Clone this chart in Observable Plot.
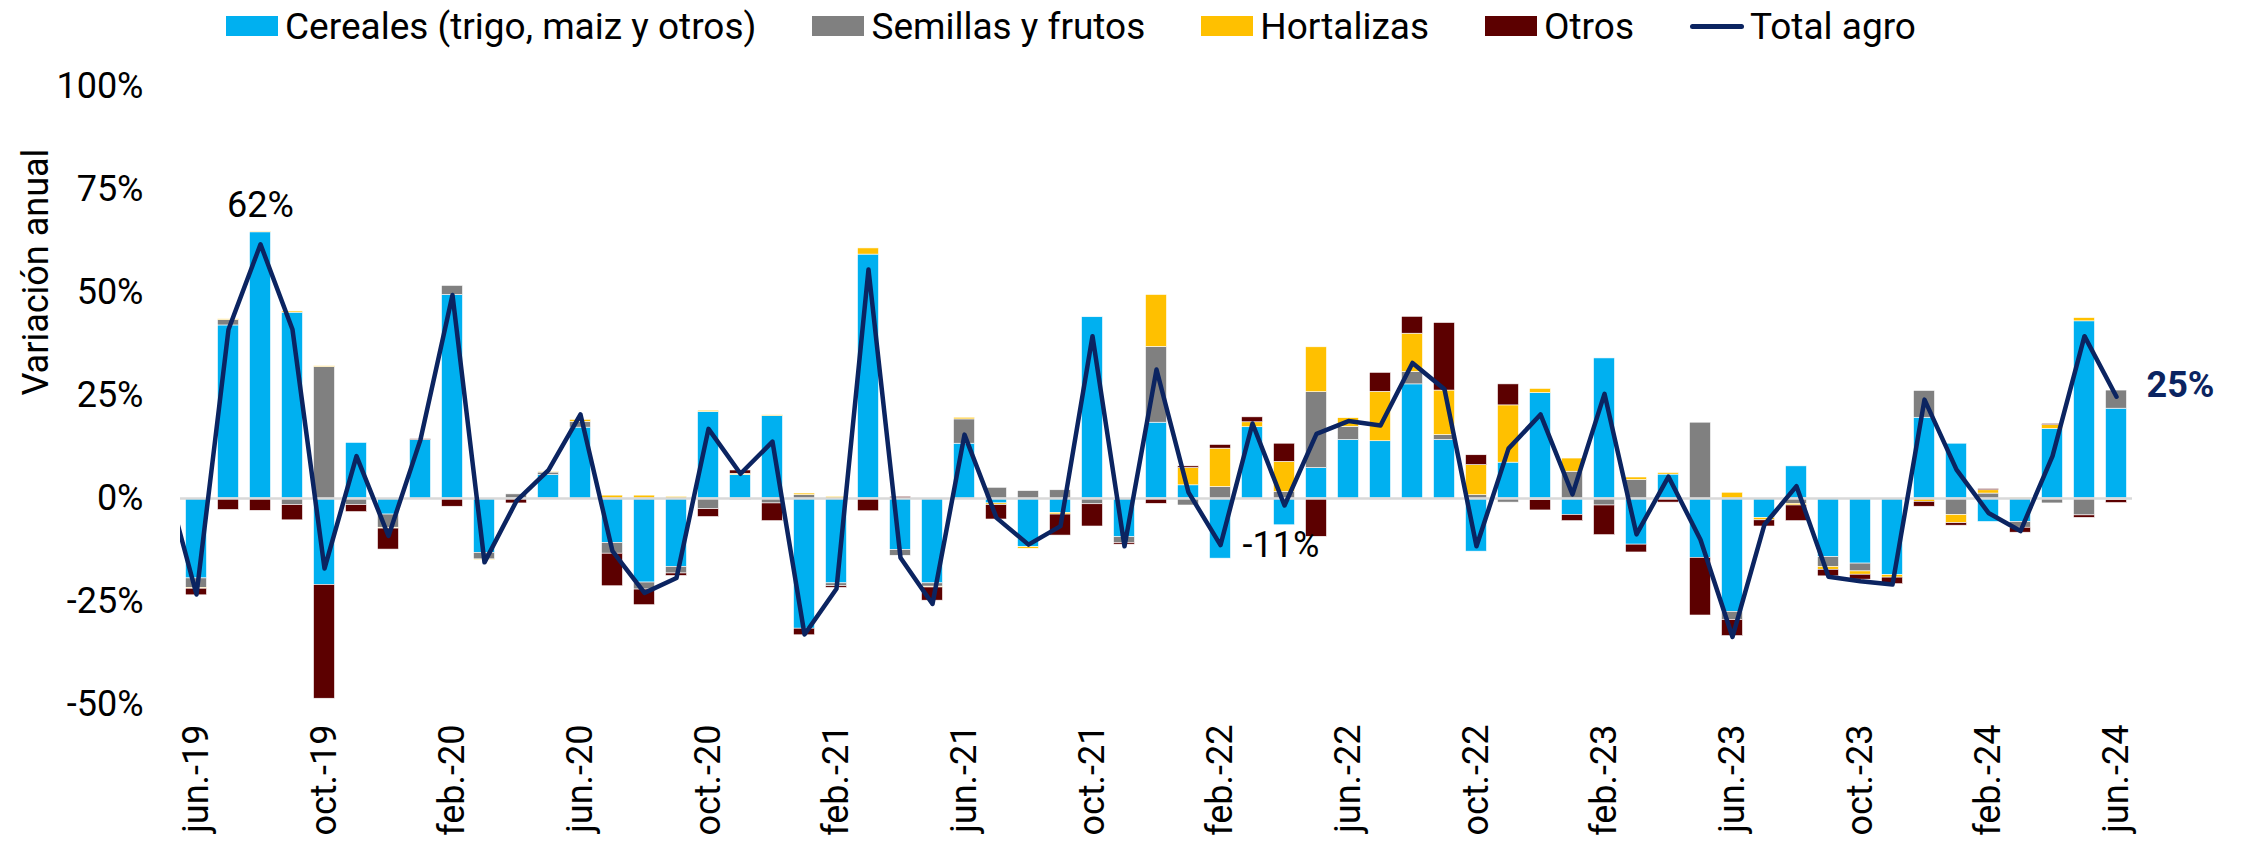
<!DOCTYPE html>
<html>
<head>
<meta charset="utf-8">
<script src="https://cdn.jsdelivr.net/npm/d3@7"></script>
<script src="https://cdn.jsdelivr.net/npm/@observablehq/plot@0.6"></script>
<style>
  html, body { margin: 0; padding: 0; background: #fff; }
  body { width: 2243px; height: 846px; overflow: hidden; font-family: Roboto, "Noto Sans", sans-serif; }
  #legend { height: 52px; display: flex; align-items: center; padding-left: 226px; font-size: 37px; color: #000; }
  .item { display: flex; align-items: center; margin-right: 56px; }
  .sw { width: 52px; height: 20px; margin-right: 7px; }
  .ln { width: 54px; height: 5px; border-radius: 3px; margin-right: 6px; }
</style>
</head>
<body>
<div id="legend"></div>
<div id="chart"></div>
<script>
const months = [
  "jun.-19","jul.-19","ago.-19","sep.-19","oct.-19","nov.-19","dic.-19",
  "ene.-20","feb.-20","mar.-20","abr.-20","may.-20","jun.-20","jul.-20","ago.-20","sep.-20","oct.-20","nov.-20","dic.-20",
  "ene.-21","feb.-21","mar.-21","abr.-21","may.-21","jun.-21","jul.-21","ago.-21","sep.-21","oct.-21","nov.-21","dic.-21",
  "ene.-22","feb.-22","mar.-22","abr.-22","may.-22","jun.-22","jul.-22","ago.-22","sep.-22","oct.-22","nov.-22","dic.-22",
  "ene.-23","feb.-23","mar.-23","abr.-23","may.-23","jun.-23","jul.-23","ago.-23","sep.-23","oct.-23","nov.-23","dic.-23",
  "ene.-24","feb.-24","mar.-24","abr.-24","may.-24","jun.-24"
];
const cereales = [
  -19.4, 42.0, 64.6, 45.1, -21.0, 13.5, -3.9, 14.2, 49.4, -13.2, 0, 5.7, 17.2, -10.8, -20.4, -16.6, 21.0, 5.7, 20.0,
  -31.6, -20.6, 59.2, -12.5, -20.6, 13.3, -1.2, -11.8, -3.5, 44.0, -9.4, 18.4,
  3.2, -14.6, 17.3, -6.5, 7.4, 14.2, 13.9, 27.7, 14.2, -12.9, 8.7, 25.6,
  -4.0, 34.0, -11.2, 5.8, -14.4, -27.5, -4.7, 7.8, -14.2, -15.8, -18.6, 19.6,
  13.3, -5.7, -5.7, 16.9, 43.0, 21.8
];
const semillas = [
  -2.3, 1.3, 0, -1.6, 31.9, -1.6, -3.2, 0, 2.2, -1.6, 1.0, 0.6, 1.4, -2.6, -1.7, -1.6, -2.6, -0.4, -1.2,
  0.8, -0.7, 0, -1.4, -0.8, 5.9, 2.6, 1.8, 2.0, -1.4, -1.4, 18.4,
  -1.7, 2.8, 0, 1.6, 18.4, 3.2, -0.3, 3.0, 1.2, 0.8, -1.0, -0.4,
  6.5, -1.7, 4.5, 0, 18.4, -2.0, 0, -1.3, -2.4, -1.9, 0, 6.5,
  -4.0, 1.2, -1.4, -1.2, -4.1, 4.4
];
const hortalizas = [
  -0.2, 0.2, 0.2, 0.3, 0.2, 0, -0.2, 0, 0, -0.2, 0, 0.2, 0.5, 0.7, 0.7, 0.4, 0.3, 0.3, 0.2,
  0.4, 0.4, 1.5, 0, -0.2, 0.4, -0.4, -0.4, -0.4, 0, 0, 12.6,
  4.2, 9.3, 1.2, 7.3, 10.9, 2.1, 12.0, 9.3, 10.8, 7.3, 13.9, 1.0,
  3.2, 0, 0.6, 0.4, 0, 1.4, -0.6, -0.4, -0.7, -0.8, -0.6, -0.8,
  -2.0, 0.8, 0.2, 0.9, 0.8, -0.4
];
const otros = [
  -1.6, -2.8, -3.0, -3.7, -27.6, -1.7, -5.1, 0.2, -2.0, 0, -1.2, -0.2, 0, -7.9, -3.8, -0.6, -1.9, 0.8, -4.3,
  -1.6, -0.4, -3.1, 0.4, -3.2, 0, -3.5, 0, -5.1, -5.4, -0.4, -1.3,
  0.4, 0.9, 1.2, 4.4, -9.3, 0, 4.6, 4.1, 16.4, 2.4, 5.1, -2.5,
  -1.5, -7.2, -1.9, -1.0, -14.0, -3.9, -1.5, -3.8, -1.6, -1.2, -1.6, -1.2,
  -0.6, 0.3, -1.2, 0.3, -0.6, -0.7
];
const total = [
  -23.3, 41.0, 61.7, 41.0, -17.0, 10.3, -9.1, 14.3, 49.4, -15.5, -0.6, 6.9, 20.4, -12.8, -22.9, -19.3, 16.9, 6.0, 13.8,
  -33.0, -21.9, 55.6, -14.4, -25.6, 15.5, -4.7, -11.2, -6.7, 39.4, -11.6, 31.3,
  1.5, -11.3, 18.2, -1.7, 15.7, 18.8, 17.7, 32.9, 26.5, -11.6, 12.1, 20.4,
  1.0, 25.4, -8.7, 5.3, -10.0, -33.6, -6.3, 3.0, -19.0, -20.1, -20.9, 24.0,
  7.0, -3.5, -7.9, 10.3, 39.4, 24.7
];
const totalPrevMonth = 5.7; // may.-19, only partly visible at the left edge
const seriesNames = ["Cereales (trigo, maiz y otros)", "Semillas y frutos", "Hortalizas", "Otros"];
const seriesColors = ["#00B0F0", "#808080", "#FFC000", "#5C0000"];
const lineName = "Total agro";
const lineColor = "#0B2461";
const yTicks = [-50, -25, 0, 25, 50, 75, 100];
const labelledMonths = [2, 32, 60];

const seriesValues = [cereales, semillas, hortalizas, otros];
const bars = seriesValues.flatMap((vals, s) => vals.map((v, i) => ({i, serie: seriesNames[s], value: v})));
const lineData = [{i: -1, v: totalPrevMonth}, ...total.map((v, i) => ({i, v}))];
const pct = v => `${Math.round(v)}%`;

// legend
const legend = document.getElementById("legend");
seriesNames.forEach((n, k) => {
  const it = document.createElement("div"); it.className = "item";
  it.innerHTML = `<div class="sw" style="background:${seriesColors[k]}"></div><span>${n}</span>`;
  legend.appendChild(it);
});
{
  const it = document.createElement("div"); it.className = "item";
  it.innerHTML = `<div class="ln" style="background:${lineColor}"></div><span>${lineName}</span>`;
  legend.appendChild(it);
}

const chart = Plot.plot({
  width: 2243,
  height: 794,
  marginTop: 34,
  marginBottom: 142,
  marginLeft: 180,
  marginRight: 111,
  style: {fontFamily: "Roboto, sans-serif", fontSize: "36px", color: "#000", background: "#fff"},
  x: {type: "linear", domain: [-0.5, months.length - 0.5]},
  y: {domain: [-50, 100]},
  color: {domain: seriesNames, range: seriesColors},
  marks: [
    Plot.rectY(bars, Plot.stackY({
      x: "i",
      x1: d => d.i - 0.5,
      x2: d => d.i + 0.5,
      y: "value",
      fill: "serie",
      insetLeft: 5.5,
      insetRight: 5.5,
      stroke: "#fff",
      strokeWidth: 0.6
    })),
    Plot.ruleY([0], {stroke: "#D9D9D9", strokeWidth: 2.5}),
    Plot.line(lineData, {x: "i", y: "v", stroke: lineColor, strokeWidth: 4.5, strokeLinejoin: "round", clip: true}),
    Plot.axisY({ticks: yTicks, tickFormat: d => `${d}%`, tickSize: 0, tickPadding: 37, fontSize: 36, label: null}),
    Plot.axisX({ticks: d3.range(0, months.length, 4), tickFormat: i => months[i], tickRotate: -90, tickSize: 0, tickPadding: 20, fontSize: 36, label: null}),
    Plot.text(["Variación anual"], {frameAnchor: "left", dx: -144, rotate: -90, fontSize: 36, fill: "#000"}),
    Plot.text([labelledMonths[0]], {x: d => d, y: d => total[d], text: d => pct(total[d]), dy: -39, fontSize: 36, fill: "#000"}),
    Plot.text([labelledMonths[1]], {x: d => d, y: d => total[d], text: d => pct(total[d]), dx: 22, textAnchor: "start", fontSize: 36, fill: "#000"}),
    Plot.text([labelledMonths[2]], {x: d => d, y: d => total[d], text: d => pct(total[d]), dx: 30, dy: -11, textAnchor: "start", fontSize: 36, fontWeight: "bold", fill: lineColor})
  ]
});
document.getElementById("chart").appendChild(chart);
</script>
</body>
</html>
